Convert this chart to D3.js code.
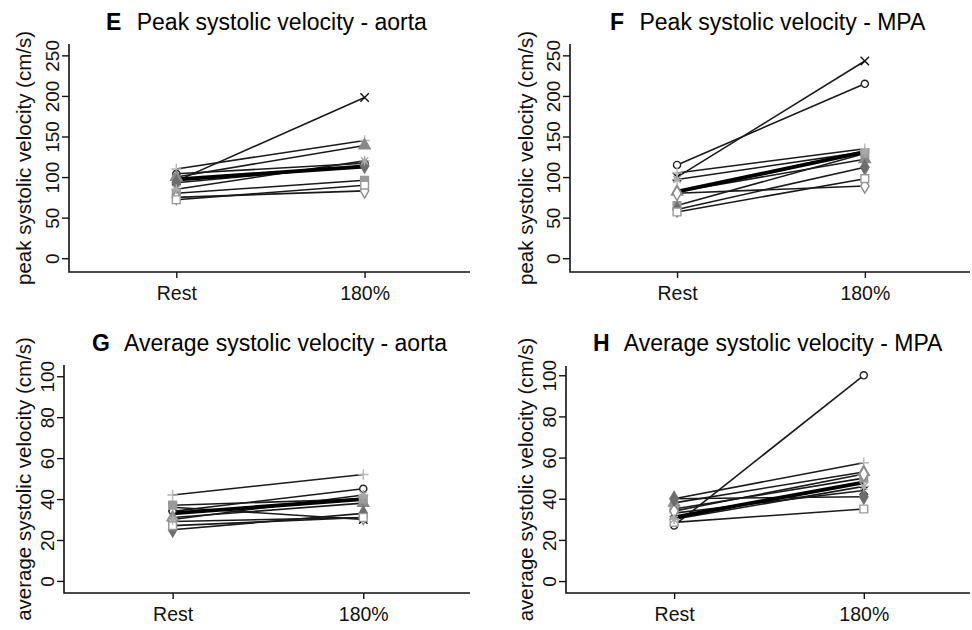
<!DOCTYPE html>
<html>
<head>
<meta charset="utf-8">
<script src="https://cdn.jsdelivr.net/npm/d3@7"></script>
<style>
  body { margin: 0; background: #fff; }
  svg { font-family: "Liberation Sans", Arial, sans-serif; }
</style>
</head>
<body>
<svg id="chart" width="972" height="630"></svg>
<script>
// conditions on the x axis
var conditions = ["Rest", "180%"];

// one marker per subject (R pch style), same order in every panel
var markers = ["x", "circle", "plus", "triangle", "square", "diamondOpen", "diamond", "squareOpen", "star"];
var markerColors = ["#111", "#222", "#b8b8b8", "#8a8a8a", "#9a9a9a", "#8a8a8a", "#6e6e6e", "#999", "#aaa"];

// E  peak systolic velocity - aorta
var peakAortaRest = [95, 104, 110, 100, 80, 75, 93, 72, 85];
var peakAortaEx   = [198, 117, 145, 139, 96, 83, 114, 90, 120];
var peakAortaMean = [97, 113];

// F  peak systolic velocity - MPA
var peakMpaRest = [100, 115, 105, 82, 65, 80, 60, 57, 97];
var peakMpaEx   = [243, 215, 135, 122, 129, 89, 112, 98, 131];
var peakMpaMean = [82, 131];

// G  average systolic velocity - aorta
var avgAortaRest = [36, 34, 42, 31, 37, 29, 25, 27, 30];
var avgAortaEx   = [30, 45, 52, 38, 40, 31, 33, 31, 42];
var avgAortaMean = [33, 40];

// H  average systolic velocity - MPA
var avgMpaRest = [33, 27, 40, 38, 35, 34, 40, 28.5, 30];
var avgMpaEx   = [44, 100, 57.5, 53, 50, 52, 41, 35, 46];
var avgMpaMean = [31, 48];

var peakTicks = [0, 50, 100, 150, 200, 250];
var avgTicks = [0, 20, 40, 60, 80, 100];

var panels = [
    {letter: "E", title: "Peak systolic velocity - aorta", ylab: "peak systolic velocity (cm/s)",
     rest: peakAortaRest, ex: peakAortaEx, mean: peakAortaMean, ticks: peakTicks, ydom: [-17, 264],
     left: 69, right: 470, top: 44, bottom: 272, titleX: 106, titleY: 30, ylabX: 31},
    {letter: "F", title: "Peak systolic velocity - MPA", ylab: "peak systolic velocity (cm/s)",
     rest: peakMpaRest, ex: peakMpaEx, mean: peakMpaMean, ticks: peakTicks, ydom: [-17, 264],
     left: 570, right: 970, top: 44, bottom: 272, titleX: 610, titleY: 30, ylabX: 533},
    {letter: "G", title: "Average systolic velocity - aorta", ylab: "average systolic velocity (cm/s)",
     rest: avgAortaRest, ex: avgAortaEx, mean: avgAortaMean, ticks: avgTicks, ydom: [-5.9, 105.5],
     left: 64, right: 470, top: 365, bottom: 593, titleX: 92, titleY: 351, ylabX: 31},
    {letter: "H", title: "Average systolic velocity - MPA", ylab: "average systolic velocity (cm/s)",
     rest: avgMpaRest, ex: avgMpaEx, mean: avgMpaMean, ticks: avgTicks, ydom: [-5.8, 104.5],
     left: 566, right: 970, top: 366, bottom: 593, titleX: 593, titleY: 351, ylabX: 533}
];

var svg = d3.select("#chart");

function markerPath(type) {
    var s = 4.2;
    if (type == "x") return "M" + (-s) + "," + (-s) + "L" + s + "," + s + "M" + (-s) + "," + s + "L" + s + "," + (-s);
    if (type == "plus") return "M" + (-s - 1) + ",0L" + (s + 1) + ",0M0," + (-s - 1) + "L0," + (s + 1);
    if (type == "star") return "M-5,0L5,0M0,-5L0,5M-3.6,-3.6L3.6,3.6M-3.6,3.6L3.6,-3.6";
    if (type == "circle") return d3.symbol(d3.symbolCircle, 40)();
    if (type == "triangle") return d3.symbol(d3.symbolTriangle, 55)();
    if (type == "square" || type == "squareOpen") return d3.symbol(d3.symbolSquare, 60)();
    return d3.symbol(d3.symbolDiamond, 60)();
}
var filled = {square: true, triangle: true, diamond: true};

panels.forEach(function (p) {
    var g = svg.append("g");

    var x = d3.scaleLinear().domain([-0.57, 1.56]).range([p.left, p.right]);
    var y = d3.scaleLinear().domain(p.ydom).range([p.bottom, p.top]);

    // title: bold panel letter + plain text
    var t = g.append("text")
        .attr("x", p.titleX)
        .attr("y", p.titleY)
        .attr("font-size", 23);
    t.append("tspan").attr("font-weight", "bold").text(p.letter);
    t.append("tspan").attr("dx", 9).text(" " + p.title);

    // y axis
    var yAxis = d3.axisLeft(y).tickValues(p.ticks).tickSize(7).tickSizeOuter(0);
    var gY = g.append("g")
        .attr("transform", "translate(" + p.left + ",0)")
        .call(yAxis);
    gY.select(".domain").remove();
    gY.selectAll(".tick line").attr("stroke", "#111").attr("stroke-width", 1.4);
    gY.selectAll(".tick text")
        .attr("transform", "rotate(-90)")
        .attr("x", 0)
        .attr("y", -10)
        .attr("dy", 0)
        .attr("text-anchor", "middle")
        .attr("font-size", 19)
        .attr("font-family", null)
        .attr("fill", "#111");

    // x axis
    var xAxis = d3.axisBottom(x).tickValues([0, 1]).tickFormat(function (i) { return conditions[i]; })
        .tickSize(6).tickSizeOuter(0);
    var gX = g.append("g")
        .attr("transform", "translate(0," + p.bottom + ")")
        .call(xAxis);
    gX.select(".domain").remove();
    gX.selectAll(".tick line").attr("stroke", "#111").attr("stroke-width", 1.4);
    gX.selectAll(".tick text")
        .attr("y", 28)
        .attr("dy", 0)
        .attr("font-size", 19.5)
        .attr("font-family", null)
        .attr("fill", "#111");

    // L-shaped box
    g.append("path")
        .attr("d", "M" + p.left + "," + p.top + "L" + p.left + "," + p.bottom + "L" + p.right + "," + p.bottom)
        .attr("fill", "none")
        .attr("stroke", "#111")
        .attr("stroke-width", 1.6);

    // y axis label
    g.append("text")
        .attr("transform", "translate(" + p.ylabX + "," + ((p.top + p.bottom) / 2 + 0) + ") rotate(-90)")
        .attr("text-anchor", "middle")
        .attr("font-size", 20.5)
        .attr("fill", "#111")
        .text(p.ylab);

    // subject lines
    var line = d3.line().x(function (d) { return x(d[0]); }).y(function (d) { return y(d[1]); });
    p.rest.forEach(function (r, i) {
        g.append("path")
            .attr("d", line([[0, r], [1, p.ex[i]]]))
            .attr("fill", "none")
            .attr("stroke", "#1a1a1a")
            .attr("stroke-width", 1.6);
    });

    // thick line
    g.append("path")
        .attr("d", line([[0, p.mean[0]], [1, p.mean[1]]]))
        .attr("fill", "none")
        .attr("stroke", "#000")
        .attr("stroke-width", 3.8);

    // markers at both ends
    p.rest.forEach(function (r, i) {
        [[0, r], [1, p.ex[i]]].forEach(function (d) {
            var m = markers[i];
            var isFilled = filled[m] === true;
            g.append("path")
                .attr("d", markerPath(m))
                .attr("transform", "translate(" + x(d[0]) + "," + y(d[1]) + ")")
                .attr("fill", isFilled ? markerColors[i] : (m == "x" || m == "plus" || m == "star" ? "none" : "#fff"))
                .attr("stroke", markerColors[i])
                .attr("stroke-width", 1.4);
        });
    });
});
</script>
</body>
</html>
